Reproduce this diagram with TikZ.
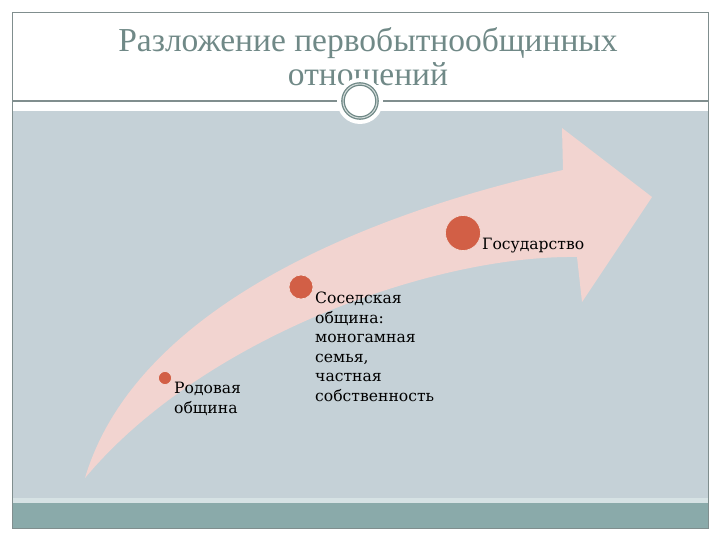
\documentclass[tikz,border=0pt]{standalone}
\usepackage{fontspec}
\setmainfont{DejaVu Serif}
\newfontfamily\titlefont{Liberation Serif}
\usepackage{tikz}
\usetikzlibrary{positioning}
\definecolor{slidegray}{RGB}{197,209,215}
\definecolor{slidelight}{RGB}{214,226,228}
\definecolor{slideteal}{RGB}{138,170,170}
\definecolor{slideframe}{RGB}{128,142,142}
\definecolor{titleteal}{RGB}{112,137,135}
\definecolor{arrowpink}{RGB}{242,212,208}
\definecolor{dotred}{RGB}{210,95,70}

\begin{document}
\begin{tikzpicture}[x=1pt, y=-1pt,
    dot/.style={circle, fill=dotred, draw=white!80!dotred, line width=0.6pt, inner sep=0pt},
    stage/.style={font=\fontsize{15.6}{19.5}\selectfont, align=left, inner sep=0pt, text=black}]
    \useasboundingbox (0,0) rectangle (720,540);

    % Slide panels
    \fill[slidegray] (12,111) rectangle (708,503);
    \fill[slidelight] (12,498) rectangle (708,503);
    \fill[slideteal] (12,503) rectangle (708,528);
    \draw[slideframe, line width=0.8pt] (12,12) rectangle (708,528);
    \draw[slideframe, line width=1.2pt] (12,101) -- (708,101);

    % Title
    \node[font=\titlefont\fontsize{33.5}{34}\selectfont, text=titleteal, align=center, inner sep=0pt, anchor=north]
        (title) at (368,27) {Разложение первобытнообщинных\\отношений};

    % Ring under the title
    \fill[white] (360,101) circle (23);
    \draw[titleteal, line width=3.6pt] (360,101) circle (17);
    \draw[white!70!titleteal, line width=1pt] (360,101) circle (17);

    % Curved arrow
    \fill[arrowpink] (85,478) .. controls (135,310) and (360,215) .. (563,170)
        -- (562,128) -- (652,197) -- (582,302) -- (577,257)
        .. controls (430,255) and (200,340) .. (85,478) -- cycle;

    % Stages
    \foreach \name/\pos/\size in {rod/{(165,378)}/13, sos/{(301,287)}/24, gos/{(463,233)}/35} {
        \node[dot, minimum size=\size] (\name) at \pos {};
    }
    \node[stage, anchor=north west] (rodtext) at (174,382) {Родовая\\община};
    \node[stage, anchor=north west] (sostext) at (315,292) {Соседская\\община:\\моногамная\\семья,\\частная\\собственность};
    \node[stage, anchor=base west] (gostext) at (482,249) {Государство};
\end{tikzpicture}
\end{document}
